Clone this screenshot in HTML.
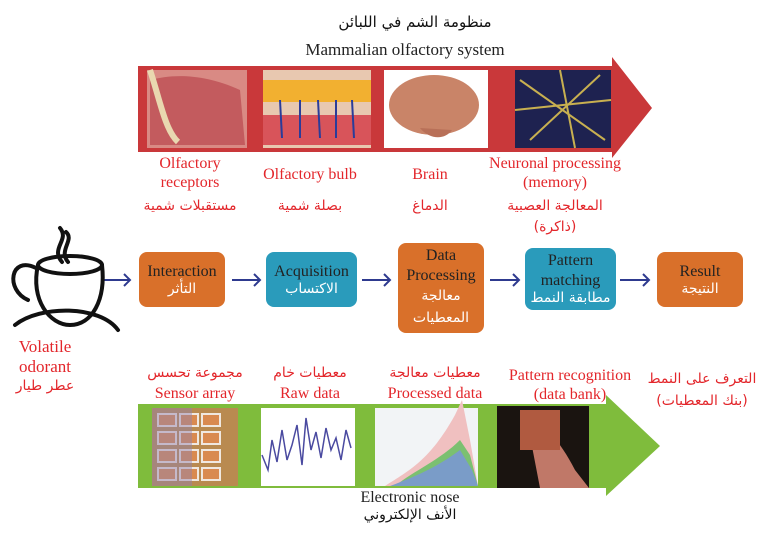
<!DOCTYPE html>
<html><head><meta charset="utf-8"><style>
body{margin:0;width:765px;height:534px;background:#fff;position:relative;overflow:hidden;font-family:"Liberation Serif","Noto Sans CJK SC",serif}
.t{position:absolute;text-align:center;white-space:nowrap;line-height:1.2}
.r{color:#e3262b;font-size:16px}
.k{color:#222;font-size:16px}
.ar{font-family:"DejaVu Sans","Noto Sans CJK SC",sans-serif}
.box{position:absolute;border-radius:8px;display:flex;flex-direction:column;align-items:center;justify-content:center;color:#222;font-size:16px;line-height:1.2;text-align:center}
.box .a{color:#fff;font-family:"DejaVu Sans",sans-serif;font-size:14px}
.o{background:#d9702a}.b{background:#2a9bbb}
</style></head><body>
<svg width="765" height="534" style="position:absolute;left:0;top:0">
<polygon points="138,66 612,66 612,57 652,108 612,158 612,152 138,152" fill="#c9383a"/>
<polygon points="138,404 606,404 606,395 660,446 606,496 606,488 138,488" fill="#7fbc3c"/>
<g stroke="#2e3a8f" stroke-width="2" fill="none">
<line x1="102" y1="280" x2="129" y2="280"/><polyline points="124,274 130,280 124,286"/>
<line x1="232" y1="280" x2="259" y2="280"/><polyline points="254,274 260,280 254,286"/>
<line x1="362" y1="280" x2="389" y2="280"/><polyline points="384,274 390,280 384,286"/>
<line x1="490" y1="280" x2="518" y2="280"/><polyline points="513,274 519,280 513,286"/>
<line x1="620" y1="280" x2="648" y2="280"/><polyline points="643,274 649,280 643,286"/>
</g>
<g stroke="#111" stroke-width="4" fill="none" stroke-linecap="round">
<ellipse cx="70" cy="265" rx="32" ry="9"/>
<path d="M38,265 C30,300 50,325 70,325 C92,325 106,300 102,265"/>
<path d="M36,268 C10,255 5,290 28,300"/>
<path d="M15,325 C40,305 100,305 118,330"/>
<path d="M62,262 C50,248 70,240 60,228 M68,262 C58,250 75,240 66,232"/>
</g>
<rect x="147" y="70" width="100" height="78" fill="#d98a84"/>
<path d="M150,80 C170,75 200,72 240,90 L245,145 L150,145 Z" fill="#c35b5e"/>
<path d="M150,70 C160,100 165,130 178,142" stroke="#e9d8b0" stroke-width="6" fill="none"/>
<rect x="263" y="70" width="108" height="78" fill="#e8c8b0"/>
<rect x="263" y="80" width="108" height="22" fill="#f2b030"/>
<rect x="263" y="115" width="108" height="30" fill="#d8545a"/>
<g stroke="#2a3c9a" stroke-width="2"><line x1="280" y1="100" x2="282" y2="138"/><line x1="300" y1="100" x2="300" y2="138"/><line x1="318" y1="100" x2="320" y2="138"/><line x1="336" y1="100" x2="336" y2="138"/><line x1="352" y1="100" x2="354" y2="138"/></g>
<rect x="384" y="70" width="104" height="78" fill="#fff"/>
<ellipse cx="434" cy="105" rx="45" ry="30" fill="#c98468"/>
<path d="M420,128 C430,140 445,140 452,130" fill="#b87058"/>
<rect x="515" y="70" width="96" height="78" fill="#1e2250"/>
<g stroke="#c8b050" stroke-width="2"><line x1="520" y1="80" x2="605" y2="140"/><line x1="530" y1="140" x2="600" y2="75"/><line x1="560" y1="70" x2="575" y2="148"/><line x1="515" y1="110" x2="611" y2="100"/></g>
<rect x="152" y="408" width="86" height="78" fill="#b98a50"/>
<g fill="#d98a50" stroke="#f0e8e0" stroke-width="2">
<rect x="158" y="414" width="18" height="12"/><rect x="180" y="414" width="18" height="12"/><rect x="202" y="414" width="18" height="12"/>
<rect x="158" y="432" width="18" height="12"/><rect x="180" y="432" width="18" height="12"/><rect x="202" y="432" width="18" height="12"/>
<rect x="158" y="450" width="18" height="12"/><rect x="180" y="450" width="18" height="12"/><rect x="202" y="450" width="18" height="12"/>
<rect x="158" y="468" width="18" height="12"/><rect x="180" y="468" width="18" height="12"/><rect x="202" y="468" width="18" height="12"/></g>
<rect x="152" y="408" width="40" height="78" fill="#9080b0" opacity=".45"/>
<rect x="261" y="408" width="94" height="78" fill="#fff"/>
<polyline points="262,455 268,470 272,440 277,462 282,430 287,460 292,445 297,425 302,465 306,418 311,450 316,432 321,458 326,428 331,450 336,438 341,460 346,430 351,448" stroke="#4a4aa0" stroke-width="1.5" fill="none"/>
<rect x="375" y="408" width="103" height="78" fill="#f2f4f6"/>
<path d="M385,486 C410,470 430,460 455,415 L462,400 L470,440 L478,486 Z" fill="#f0c0c0"/>
<path d="M395,486 C415,470 440,460 460,440 L470,455 L478,486 Z" fill="#7bc070"/>
<path d="M390,486 C420,475 440,465 460,450 L472,470 L478,486 Z" fill="#7a9cc8"/>
<rect x="497" y="406" width="92" height="82" fill="#1a1410"/>
<path d="M525,410 C540,420 560,440 575,470 L589,488 L540,488 Z" fill="#c07868"/>
<rect x="520" y="410" width="40" height="40" fill="#b05a40"/>
</svg>

<div class="t ar" style="left:300px;top:13px;width:230px;font-size:15px;color:#111">منظومة الشم في اللبائن</div>
<div class="t k" style="left:250px;top:40px;width:310px;font-size:17px">Mammalian olfactory system</div>

<div class="t r" style="left:125px;top:154px;width:130px">Olfactory<br>receptors</div>
<div class="t r ar" style="left:125px;top:198px;width:130px;font-size:14px">مستقبلات شمية</div>
<div class="t r" style="left:240px;top:165px;width:140px">Olfactory bulb</div>
<div class="t r ar" style="left:240px;top:198px;width:140px;font-size:14px">بصلة شمية</div>
<div class="t r" style="left:385px;top:165px;width:90px">Brain</div>
<div class="t r ar" style="left:385px;top:198px;width:90px;font-size:14px">الدماغ</div>
<div class="t r" style="left:465px;top:154px;width:180px">Neuronal processing<br>(memory)</div>
<div class="t r ar" style="left:465px;top:196px;width:180px;font-size:14px;line-height:1.5">المعالجة العصبية<br>(ذاكرة)</div>

<div class="box o" style="left:139px;top:252px;width:86px;height:55px">Interaction<span class="a">التأثر</span></div>
<div class="box b" style="left:266px;top:252px;width:91px;height:55px">Acquisition<span class="a">الاكتساب</span></div>
<div class="box o" style="left:398px;top:243px;width:86px;height:90px">Data<br>Processing<span class="a" style="line-height:1.6">معالجة<br>المعطيات</span></div>
<div class="box b" style="left:525px;top:248px;width:91px;height:62px">Pattern<br>matching<span class="a">مطابقة النمط</span></div>
<div class="box o" style="left:657px;top:252px;width:86px;height:55px">Result<span class="a">النتيجة</span></div>

<div class="t r" style="left:5px;top:337px;width:80px;font-size:17px">Volatile<br>odorant</div>
<div class="t r ar" style="left:5px;top:378px;width:80px;font-size:14px">عطر طيار</div>

<div class="t r ar" style="left:135px;top:365px;width:120px;font-size:14px">مجموعة تحسس</div>
<div class="t r" style="left:135px;top:384px;width:120px">Sensor array</div>
<div class="t r ar" style="left:255px;top:365px;width:110px;font-size:14px">معطيات خام</div>
<div class="t r" style="left:255px;top:384px;width:110px">Raw data</div>
<div class="t r ar" style="left:365px;top:365px;width:140px;font-size:14px">معطيات معالجة</div>
<div class="t r" style="left:365px;top:384px;width:140px">Processed data</div>
<div class="t r" style="left:490px;top:366px;width:160px;line-height:1.2">Pattern recognition<br>(data bank)</div>
<div class="t r ar" style="left:638px;top:369px;width:128px;font-size:14px;line-height:1.55">التعرف على النمط<br>(بنك المعطيات)</div>

<div class="t k" style="left:310px;top:488px;width:200px">Electronic nose</div>
<div class="t ar" style="left:310px;top:507px;width:200px;font-size:14px;color:#111">الأنف الإلكتروني</div>
</body></html>
